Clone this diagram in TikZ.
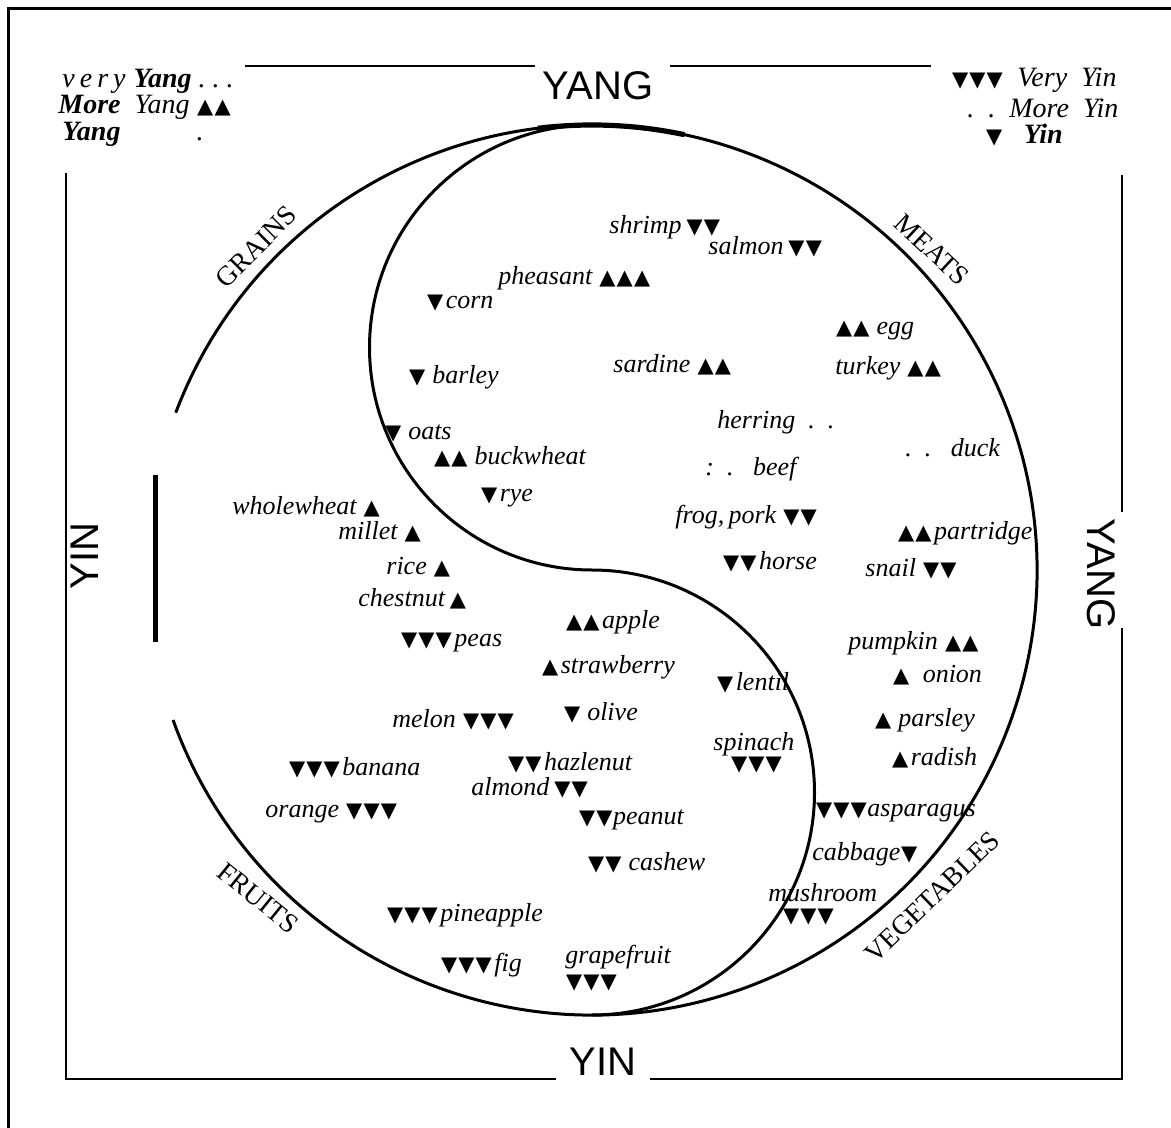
\documentclass[tikz,border=0pt]{standalone}
\usepackage{fontspec}
\setmainfont{Liberation Serif}
\newfontfamily\symfnt{DejaVu Sans}
\newfontfamily\bigsansfnt{Liberation Sans}
\usetikzlibrary{calc}
\newcommand{\tup}{{\kern0.3pt\symfnt\fontsize{10.5}{10.5}\selectfont ▲\kern0.3pt}}
\newcommand{\tdn}{{\kern0.3pt\symfnt\fontsize{10.5}{10.5}\selectfont ▼\kern0.3pt}}
\tikzset{
  food/.style={font=\fontsize{13}{14}\selectfont\itshape, inner sep=0pt, anchor=west},
  cat/.style={font=\fontsize{13.8}{14}\selectfont, inner sep=0pt},
  big/.style={font=\bigsansfnt\fontsize{20}{20}\selectfont, inner sep=0pt},
  leg/.style={font=\fontsize{14}{16}\selectfont\itshape, inner sep=0pt, anchor=west},
  ring/.style={line width=1.5pt},
  frameline/.style={line width=1pt},
}
\begin{document}
\begin{tikzpicture}[x=0.5pt,y=-0.5pt]
\useasboundingbox (0,0) rectangle (1171,1128);
% outer frame (left and top)
\draw[line width=1.5pt] (8,1128) -- (8,9) -- (1171,9);
% inner frame
\draw[frameline] (245,66) -- (535,66);
\draw[frameline] (670,66) -- (931,66);
\draw[frameline] (66,173) -- (66,1079) -- (556,1079);
\draw[frameline] (650,1079) -- (1122,1079) -- (1122,628);
\draw[frameline] (1122,512) -- (1122,175);
\draw[line width=2.5pt] (155,475) -- (155,642);
% yin-yang
\coordinate (C) at (592,570);
\draw[ring] ($(C)+(-159.3:445)$) arc[start angle=-159.3, end angle=160.3, radius=445];
\draw[line width=2.6pt] ($(C)+(-97:445)$) arc[start angle=-97, end angle=-78, radius=445];
\coordinate (top) at (592,125);
\draw[ring] (top) arc[start angle=-90, end angle=-270, radius=222.5]
                  arc[start angle=-90, end angle=90, radius=222.5];
% big labels
\node[big] (yangT) at (598,86) {YANG};
\node[big] (yinB) at (603,1062) {YIN};
\node[big, rotate=-90] (yangR) at (1101,574) {YANG};
\node[big, rotate=90] (yinL) at (85,556) {YIN};
% legends
\node[leg] (l1) at (62,81) {v\kern2.5pt e\kern2.5pt r\kern2.5pt y\kern4pt{\bfseries Yang}\ .\ .\ .};
\node[leg] (l2) at (58,107) {{\bfseries More}\ \ Yang \tup\tup};
\node[leg] (l3) at (62,134) {{\bfseries Yang}\hspace{38pt}.};
\node[leg] (r1) at (951,80) {\tdn\tdn\tdn\ \ Very\ \ Yin};
\node[leg] (r2) at (967,108) {.\ \ .\ \ More\ \ Yin};
\node[leg] (r3) at (985,135) {\tdn\ \ \ {\bfseries Yin}};
% categories
\node[cat, rotate=45] (grains) at (256,247) {GRAINS};
\node[cat, rotate=-43] (meats) at (932,250) {MEATS};
\node[cat, rotate=-39] (fruits) at (258,898) {FRUITS};
\node[cat, rotate=44] (veg) at (932,897) {VEGETABLES};
% foods
\node[food] (shrimp) at (609,227) {shrimp\,\tdn\tdn};
\node[food] (salmon) at (708,247) {salmon\,\tdn\tdn};
\node[food] (pheasant) at (498,278) {pheasant \tup\tup\tup};
\node[food] (corn) at (426,303) {\tdn\kern1pt corn};
\node[food] (egg) at (835,331) {\tup\tup\ egg};
\node[food] (sardine) at (613,365) {sardine \tup\tup};
\node[food] (turkey) at (835,368) {turkey \tup\tup};
\node[food] (barley) at (408,377) {\tdn\ barley};
\node[food] (herring) at (717,422) {herring\ \ .\ \ .};
\node[food] (duck) at (905,448) {.\ \ .\ \ \ duck};
\node[food] (oats) at (384,433) {\tdn\ oats};
\node[food] (buckwheat) at (433,457) {\tup\tup\ buckwheat};
\node[food] (beef) at (705,469) {:\ \ .\ \ \ beef};
\node[food] (rye) at (480,498) {\tdn\kern1pt rye};
\node[food] (wholewheat) at (232,507) {wholewheat \tup};
\node[food] (frogpork) at (675,517) {frog,\,pork \tdn\tdn};
\node[food] (millet) at (338,532) {millet \tup};
\node[food] (partridge) at (897,533) {\tup\tup\kern1pt partridge};
\node[food] (horse) at (722,562) {\tdn\tdn\kern1pt horse};
\node[food] (rice) at (386,567) {rice \tup};
\node[food] (snail) at (865,569) {snail \tdn\tdn};
\node[food] (chestnut) at (358,599) {chestnut\,\tup};
\node[food] (apple) at (565,622) {\tup\tup\kern1pt apple};
\node[food] (peas) at (400,643) {\tdn\tdn\tdn\kern1pt peas};
\node[food] (pumpkin) at (848,643) {pumpkin \tup\tup};
\node[food] (strawberry) at (541,667) {\tup\kern1pt strawberry};
\node[food] (onion) at (892,675) {\tup\ \ onion};
\node[food] (lentil) at (716,683) {\tdn\kern1pt lentil};
\node[food] (melon) at (392,720) {melon \tdn\tdn\tdn};
\node[food] (olive) at (563,713) {\tdn\ olive};
\node[food] (parsley) at (874,720) {\tup\ parsley};
\node[food] (spinach) at (713,744) {spinach};
\node[food] (spinachT) at (730,765) {\tdn\tdn\tdn};
\node[food] (radish) at (891,758) {\tup\kern1pt radish};
\node[food] (banana) at (288,768) {\tdn\tdn\tdn\kern1pt banana};
\node[food] (hazlenut) at (507,763) {\tdn\tdn\kern1pt hazlenut};
\node[food] (almond) at (471,788) {almond\,\tdn\tdn};
\node[food] (orange) at (265,814) {orange \tdn\tdn\tdn};
\node[food] (asparagus) at (815,813) {\tdn\tdn\tdn asparagus};
\node[food] (peanut) at (578,820) {\tdn\tdn peanut};
\node[food] (cabbage) at (812,854) {cabbage\tdn};
\node[food] (cashew) at (587,863) {\tdn\tdn\ cashew};
\node[food] (mushroom) at (768,893) {mushroom};
\node[food] (mushroomT) at (782,917) {\tdn\tdn\tdn};
\node[food] (pineapple) at (386,915) {\tdn\tdn\tdn\kern1pt pineapple};
\node[food] (fig) at (440,965) {\tdn\tdn\tdn\kern1pt fig};
\node[food] (grapefruit) at (565,957) {grapefruit};
\node[food] (grapefruitT) at (565,983) {\tdn\tdn\tdn};
\end{tikzpicture}
\end{document}
